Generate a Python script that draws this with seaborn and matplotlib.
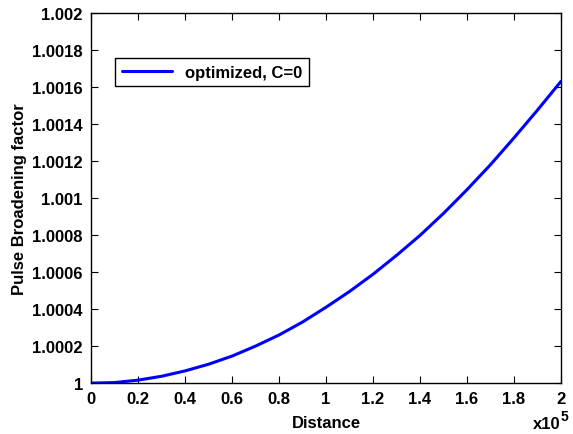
import numpy as np
import pandas as pd
import seaborn as sns
import matplotlib.pyplot as plt
from matplotlib.ticker import FuncFormatter, MultipleLocator

# distance in units of 1e5, broadening excess in units of 1e-4
dist = [0.0, 0.1, 0.2, 0.3, 0.4, 0.5, 0.6, 0.7, 0.8, 0.9, 1.0,
        1.1, 1.2, 1.3, 1.4, 1.5, 1.6, 1.7, 1.8, 1.9, 2.0]
excess = [0.0, 0.03, 0.16, 0.37, 0.66, 1.02, 1.46, 2.0, 2.6, 3.3, 4.1,
          4.95, 5.88, 6.9, 7.98, 9.17, 10.45, 11.8, 13.25, 14.75, 16.3]
label = 'optimized, C=0'

df = pd.DataFrame({
    'Distance': np.array(dist) * 1e5,
    'PBF': 1 + np.array(excess) * 1e-4,
})

sns.set_theme(style='ticks')
plt.rcParams['font.family'] = ['Liberation Sans', 'DejaVu Sans']
plt.rcParams['font.weight'] = 'bold'
plt.rcParams['text.color'] = 'black'
plt.rcParams['axes.labelcolor'] = 'black'

fig = plt.figure(figsize=(5.73, 4.35), dpi=100)
ax = fig.add_axes([0.159, 0.117, 0.820, 0.851])

sns.lineplot(data=df, x='Distance', y='PBF', ax=ax, color='#0000ff',
             linewidth=2.2, label=label)

ax.set_xlim(0, 2e5)
ax.set_ylim(1, 1.002)
ax.xaxis.set_major_locator(MultipleLocator(0.2e5))
ax.yaxis.set_major_locator(MultipleLocator(0.0002))
ax.xaxis.set_major_formatter(FuncFormatter(lambda v, p: '{:g}'.format(round(v / 1e5, 3))))
ax.yaxis.set_major_formatter(FuncFormatter(lambda v, p: '{:g}'.format(round(v, 5))))

for s in ax.spines.values():
    s.set_visible(True)
    s.set_linewidth(1.0)
    s.set_color('black')
ax.tick_params(direction='in', length=5, width=0.8, top=True, right=True,
               labelsize=12, colors='black', pad=6)
for t in ax.get_xticklabels() + ax.get_yticklabels():
    t.set_fontweight('bold')

ax.set_xlabel('Distance', fontsize=12, fontweight='bold', labelpad=6, color='black')
ax.set_ylabel('Pulse Broadening factor', fontsize=12, fontweight='bold', labelpad=4,
              color='black')

# multiplier for the x axis, drawn like matlab does it
ax.text(0.998, -0.108, 'x10', transform=ax.transAxes, fontsize=12,
        fontweight='bold', ha='right', va='center', color='black')
ax.text(1.0, -0.089, '5', transform=ax.transAxes, fontsize=10,
        fontweight='bold', ha='left', va='center', color='black')

leg = ax.legend(loc='upper left', bbox_to_anchor=(0.051, 0.878), borderaxespad=0,
                fancybox=False, framealpha=1, edgecolor='black', handlelength=3.0,
                prop={'weight': 'bold', 'size': 12})
leg.get_frame().set_linewidth(1.0)
for t in leg.get_texts():
    t.set_color('black')

fig.savefig('out.png', dpi=100)
